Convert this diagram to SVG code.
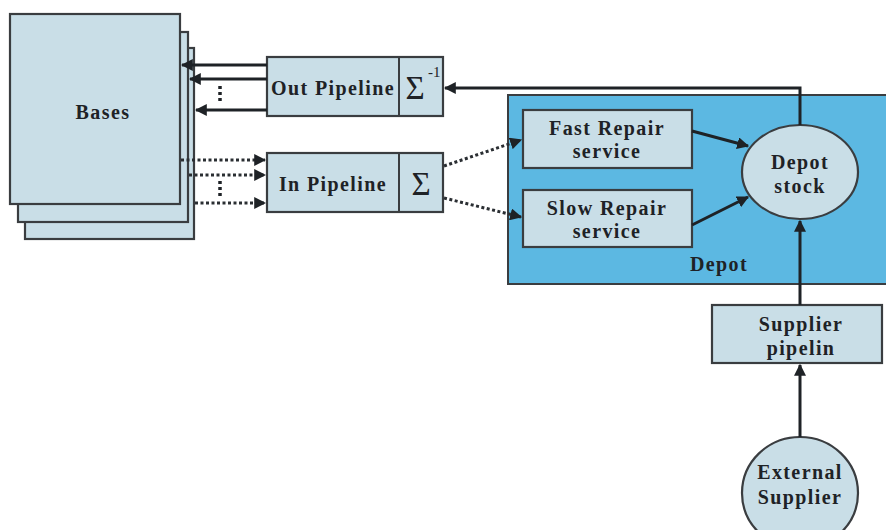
<svg xmlns="http://www.w3.org/2000/svg" width="886" height="530" viewBox="0 0 886 530">
  <style>
    .box { fill: #c9dee7; stroke: #3a3d40; stroke-width: 2.2; }
    .depot { fill: #5cb8e2; stroke: #3a3d40; stroke-width: 2; }
    .lbl { font-family: "Liberation Serif", "Times New Roman", serif; font-weight: bold; font-size: 20px; fill: #1e2226; letter-spacing: 1.4px; text-anchor: middle; }
    .sig { font-family: "Liberation Serif", "Times New Roman", serif; font-size: 33px; fill: #1e2226; text-anchor: middle; }
    .solid { stroke: #1e2226; stroke-width: 3; fill: none; }
    .dot { stroke: #2a2e32; stroke-width: 3; fill: none; stroke-dasharray: 3 2.5; }
    .vdots { stroke: #1e2226; stroke-width: 3.5; fill: none; stroke-dasharray: 3 3; }
  </style>
  <defs>
    <marker id="ah" viewBox="0 0 10 10" refX="9" refY="5" markerWidth="4" markerHeight="4" orient="auto" markerUnits="strokeWidth">
      <path d="M0,0 L10,5 L0,10 z" fill="#1e2226"/>
    </marker>
  </defs>

  <rect width="886" height="530" fill="#ffffff"/>

  <!-- stacked base sheets -->
  <g id="bases">
    <rect class="box" x="25" y="48" width="169" height="191"/>
    <rect class="box" x="18" y="32" width="170" height="190"/>
    <rect class="box" x="10" y="14" width="170" height="190"/>
    <text class="lbl" x="103" y="119">Bases</text>
  </g>

  <!-- depot area -->
  <g id="depot">
    <rect class="depot" x="508" y="95" width="382" height="189"/>
    <text class="lbl" x="719" y="271">Depot</text>
  </g>

  <g id="out-pipeline">
    <rect class="box" x="267" y="57" width="176" height="59"/>
    <line x1="399" y1="57" x2="399" y2="116" stroke="#3a3d40" stroke-width="2"/>
    <text class="lbl" x="333" y="95">Out Pipeline</text>
    <text class="sig" x="415" y="99">Σ</text>
    <text x="428" y="77" font-family="Liberation Serif, serif" font-size="15" fill="#1e2226">-1</text>
  </g>

  <g id="in-pipeline">
    <rect class="box" x="267" y="153" width="176" height="59"/>
    <line x1="399" y1="153" x2="399" y2="212" stroke="#3a3d40" stroke-width="2"/>
    <text class="lbl" x="333" y="191">In Pipeline</text>
    <text class="sig" x="421" y="195">Σ</text>
  </g>

  <g id="fast-repair">
    <rect class="box" x="523" y="110" width="169" height="58"/>
    <text class="lbl" x="607" y="135">Fast Repair</text>
    <text class="lbl" x="607" y="158">service</text>
  </g>

  <g id="slow-repair">
    <rect class="box" x="523" y="190" width="169" height="57"/>
    <text class="lbl" x="607" y="215">Slow Repair</text>
    <text class="lbl" x="607" y="238">service</text>
  </g>

  <g id="depot-stock">
    <ellipse class="box" cx="800" cy="172" rx="58" ry="47"/>
    <text class="lbl" x="800" y="169">Depot</text>
    <text class="lbl" x="800" y="193">stock</text>
  </g>

  <g id="supplier-pipeline">
    <rect class="box" x="712" y="305" width="170" height="58"/>
    <text class="lbl" x="801" y="331">Supplier</text>
    <text class="lbl" x="801" y="355">pipelin</text>
  </g>

  <g id="external-supplier">
    <ellipse class="box" cx="800" cy="493" rx="58" ry="56"/>
    <text class="lbl" x="800" y="479">External</text>
    <text class="lbl" x="800" y="504">Supplier</text>
  </g>

  <g id="connectors">
    <!-- returns to bases -->
    <line class="solid" x1="267" y1="65" x2="182" y2="65" marker-end="url(#ah)"/>
    <line class="solid" x1="267" y1="79" x2="190" y2="79" marker-end="url(#ah)"/>
    <line class="solid" x1="267" y1="110" x2="196" y2="110" marker-end="url(#ah)"/>
    <line class="vdots" x1="220" y1="86" x2="220" y2="103"/>
    <!-- failures into pipeline -->
    <line class="dot" x1="181" y1="160" x2="265" y2="160" marker-end="url(#ah)"/>
    <line class="dot" x1="189" y1="175" x2="265" y2="175" marker-end="url(#ah)"/>
    <line class="dot" x1="195" y1="203" x2="265" y2="203" marker-end="url(#ah)"/>
    <line class="vdots" x1="220" y1="181" x2="220" y2="198"/>
    <!-- to repair services -->
    <line class="dot" x1="444" y1="166" x2="521" y2="140" marker-end="url(#ah)"/>
    <line class="dot" x1="444" y1="198" x2="521" y2="217" marker-end="url(#ah)"/>
    <!-- repaired into stock -->
    <line class="solid" x1="692" y1="131" x2="748" y2="146" marker-end="url(#ah)"/>
    <line class="solid" x1="692" y1="225" x2="748" y2="197" marker-end="url(#ah)"/>
    <!-- stock back to bases -->
    <polyline class="solid" points="800,125 800,88 445,88" marker-end="url(#ah)"/>
    <!-- supply chain -->
    <line class="solid" x1="800" y1="305" x2="800" y2="221" marker-end="url(#ah)"/>
    <line class="solid" x1="800" y1="437" x2="800" y2="365" marker-end="url(#ah)"/>
  </g>
</svg>
